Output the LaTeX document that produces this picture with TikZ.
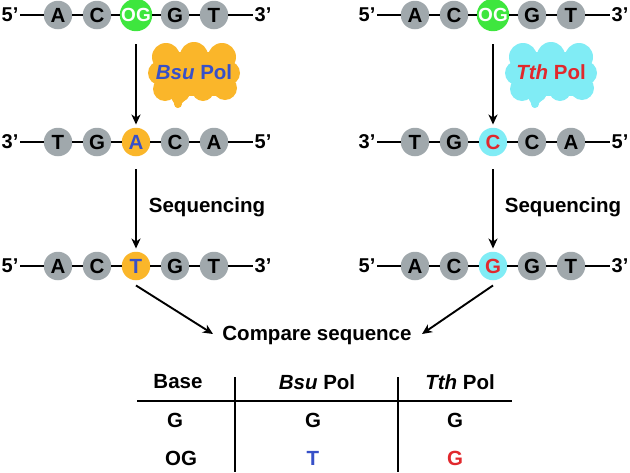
\documentclass[tikz,border=0pt]{standalone}
\usepackage{fontspec}
\setmainfont{Liberation Sans}
\usetikzlibrary{arrows.meta}
\definecolor{basegrey}{RGB}{160,168,172}
\definecolor{oggreen}{RGB}{62,230,62}
\definecolor{bsuorange}{RGB}{250,182,42}
\definecolor{tthcyan}{RGB}{128,236,245}
\definecolor{bsublue}{RGB}{55,80,200}
\definecolor{tthred}{RGB}{225,40,45}
\tikzset{
  base/.style={circle,minimum size=28.5pt,inner sep=0pt,fill=basegrey,font=\fontsize{20.5}{20}\selectfont\bfseries},
  og/.style={base,fill=oggreen,text=white,font=\fontsize{19}{19}\selectfont\bfseries},
  obsu/.style={base,fill=bsuorange,text=bsublue},
  ctth/.style={base,fill=tthcyan,text=tthred},
  endlab/.style={inner sep=1.5pt,font=\fontsize{20}{20}\selectfont\bfseries},
  backbone/.style={line width=2.8pt},
  flow/.style={line width=2.2pt,-{Stealth[length=10pt,width=9pt,inset=3pt]}},
  lab/.style={font=\fontsize{20.5}{20}\selectfont\bfseries},
  tline/.style={line width=2.2pt}
}
\newcommand\dnarow[7]{%
  \node[endlab] (#1s) at (#2-126,#3) {#4};
  \node[endlab] (#1e) at (#2+127,#3) {#5};
  \foreach \i/\b/\s in {#6} \node[\s] (#1\i) at ({#2+(\i-3)*39},#3) {\b};
  \draw[backbone] (#1s) -- (#11) (#11) -- (#12) (#12) -- (#13) (#13) -- (#14) (#14) -- (#15) (#15) -- (#1e);
}
\newcommand\bubbleshape[2]{%
  \begin{scope}[xshift=#1]
  \fill[#2] (157,52) rectangle (231,96);
  \foreach \cx/\cy/\r in {166/57/14,194/56/14,222/57/14,
                          160/73/12,228/73/12,
                          165/89/12,180/92/10,203/90/11,225/88/12}
    \fill[#2] (\cx,\cy) circle (\r);
  \fill[#2] (171,98) -- (177,108) -- (187,98) -- cycle;
  \fill[#2] (178,104) circle (4);
  \end{scope}
}
\begin{document}
\begin{tikzpicture}[x=1pt,y=-1pt]
\useasboundingbox (0,0) rectangle (630,472);
% left column
\dnarow{La}{136}{15}{5’}{3’}{1/A/base,2/C/base,3/OG/og,4/G/base,5/T/base}{}
\dnarow{Lb}{136}{142}{3’}{5’}{1/T/base,2/G/base,3/A/obsu,4/C/base,5/A/base}{}
\dnarow{Lc}{136}{266}{5’}{3’}{1/A/base,2/C/base,3/T/obsu,4/G/base,5/T/base}{}
% right column
\dnarow{Ra}{493}{15}{5’}{3’}{1/A/base,2/C/base,3/OG/og,4/G/base,5/T/base}{}
\dnarow{Rb}{493}{142}{3’}{5’}{1/T/base,2/G/base,3/C/ctth,4/C/base,5/A/base}{}
\dnarow{Rc}{493}{266}{5’}{3’}{1/A/base,2/C/base,3/G/ctth,4/G/base,5/T/base}{}
% clouds
\bubbleshape{0pt}{bsuorange}
\node[lab,text=bsublue] (bsu) at (194,72) {\textit{Bsu} Pol};
\bubbleshape{357pt}{tthcyan}
\node[lab,text=tthred] (tth) at (551,72) {\textit{Tth} Pol};
% arrows
\draw[flow] ([yshift=-13pt]La3.south) -- ([yshift=3pt]Lb3.north);
\draw[flow] ([yshift=-13pt]Lb3.south) -- ([yshift=3pt]Lc3.north);
\draw[flow] ([yshift=-13pt]Ra3.south) -- ([yshift=3pt]Rb3.north);
\draw[flow] ([yshift=-13pt]Rb3.south) -- ([yshift=3pt]Rc3.north);
\node[lab] (seqL) at (207,207) {Sequencing};
\node[lab] (seqR) at (563,207) {Sequencing};
\node[lab] (cmp) at (317,335) {Compare sequence};
\coordinate (cmpL) at (213,334);
\coordinate (cmpR) at (422,334);
\draw[flow,line width=1.9pt] ([yshift=-5pt]Lc3.south) -- (cmpL);
\draw[flow,line width=1.9pt] ([yshift=-5pt]Rc3.south) -- (cmpR);
% table
\node[lab] (h1) at (178,382) {Base};
\node[lab] (h2) at (317,382) {\textit{Bsu} Pol};
\node[lab] (h3) at (460,382) {\textit{Tth} Pol};
\node[lab] (g1) at (175,420) {G};
\node[lab] (g2) at (313,420) {G};
\node[lab] (g3) at (455,420) {G};
\node[lab] (o1) at (181,458) {OG};
\node[lab,text=bsublue] (o2) at (313,458) {T};
\node[lab,text=tthred] (o3) at (455,458) {G};
\coordinate (hl) at (137,401);
\coordinate (hr) at (512,401);
\coordinate (v1t) at (235,377);
\coordinate (v1b) at (235,472);
\coordinate (v2t) at (398,377);
\coordinate (v2b) at (398,472);
\draw[tline] (hl) -- (hr);
\draw[tline] (v1t) -- (v1b);
\draw[tline] (v2t) -- (v2b);
\end{tikzpicture}
\end{document}
